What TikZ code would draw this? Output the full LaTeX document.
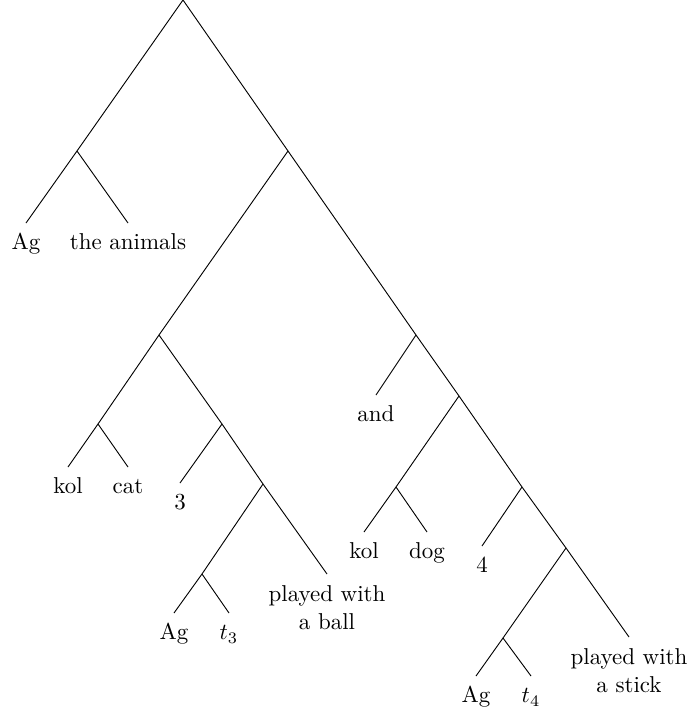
\documentclass[tikz,border=0pt]{standalone}

\begin{document}
\begin{tikzpicture}[
    x=0.0153cm, y=-0.0153cm, % one unit = one pixel of the sketch
    leaf/.style={anchor=north, inner ysep=5pt, text height=1.5ex, text depth=.25ex}, % Style for single words
    phrase/.style={anchor=north, inner ysep=5pt, align=center} % Style for two-line leaves
]
    \useasboundingbox (0,0) rectangle (686,713);

    % Define Branching Points (the spine runs down to the right)
    \coordinate (root) at (183, 0);
    \coordinate (subj) at (77, 151);
    \coordinate (pred) at (288, 151);
    \coordinate (conjA) at (159, 335);
    \coordinate (kolA) at (98, 424);
    \coordinate (vpA) at (222, 424);
    \coordinate (inA) at (263, 484);
    \coordinate (agA) at (202, 574);
    \coordinate (conjB) at (416, 335);
    \coordinate (andB) at (459, 396);
    \coordinate (kolB) at (396, 487);
    \coordinate (vpB) at (522, 487);
    \coordinate (inB) at (566, 548);
    \coordinate (agB) at (503, 638);

%    ############# LEAVES
    \node[leaf] (ag0) at (26, 223) {Ag};
    \node[leaf] (animals) at (128, 223) {the animals};
    \node[leaf] (kol1) at (68, 467) {kol};
    \node[leaf] (cat) at (128, 467) {cat};
    \node[leaf] (three) at (180, 483) {3};
    \node[leaf] (ag1) at (174, 613) {Ag};
    \node[leaf] (t3) at (229, 613) {$t_3$};
    \node[phrase] (ball) at (327, 574) {played with\\a ball};
    \node[leaf] (and) at (376, 395) {and};
    \node[leaf] (kol2) at (364, 532) {kol};
    \node[leaf] (dog) at (427, 532) {dog};
    \node[leaf] (four) at (482, 546) {4};
    \node[leaf] (ag2) at (476, 676) {Ag};
    \node[leaf] (t4) at (531, 676) {$t_4$};
    \node[phrase] (stick) at (629, 637) {played with\\a stick};

    % Draw Branches
    \draw (root) -- (subj);
    \draw (root) -- (pred);
    \draw (subj) -- (ag0.north);
    \draw (subj) -- (animals.north);
    \draw (pred) -- (conjA);
    \draw (pred) -- (conjB);

    % First conjunct
    \draw (conjA) -- (kolA);
    \draw (conjA) -- (vpA);
    \draw (kolA) -- (kol1.north);
    \draw (kolA) -- (cat.north);
    \draw (vpA) -- (three.north);
    \draw (vpA) -- (inA);
    \draw (inA) -- (agA);
    \draw (inA) -- (ball.north);
    \draw (agA) -- (ag1.north);
    \draw (agA) -- (t3.north);

    % Second conjunct
    \draw (conjB) -- (and.north);
    \draw (conjB) -- (andB);
    \draw (andB) -- (kolB);
    \draw (andB) -- (vpB);
    \draw (kolB) -- (kol2.north);
    \draw (kolB) -- (dog.north);
    \draw (vpB) -- (four.north);
    \draw (vpB) -- (inB);
    \draw (inB) -- (agB);
    \draw (inB) -- (stick.north);
    \draw (agB) -- (ag2.north);
    \draw (agB) -- (t4.north);

\end{tikzpicture}
\end{document}
